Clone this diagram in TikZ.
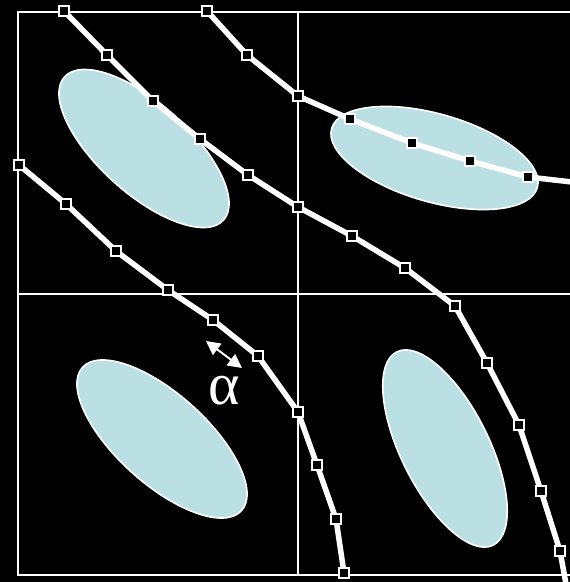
\documentclass[tikz,border=0pt]{standalone}
\usepackage{fontspec}
\newfontfamily\greekfont{Liberation Serif}
\usetikzlibrary{arrows.meta}
\definecolor{ellblue}{HTML}{BBE0E3}
\tikzset{
  gridline/.style={draw=white, line width=1.8pt},
  curveline/.style={draw=white, line width=5.5pt, line join=round},
  mk/.style={rectangle, draw=white, fill=black, line width=1.8pt, minimum size=9.5pt, inner sep=0pt},
  blob/.style={fill=ellblue, draw=white, line width=1.6pt},
}
\begin{document}
\begin{tikzpicture}[x=1pt,y=-1pt]
\useasboundingbox (0,0) rectangle (570,582);
\fill[black] (0,0) rectangle (570,582);
% grid
\draw[gridline] (18,12) rectangle (578,575);
\draw[gridline] (298,12) -- (298,575);
\draw[gridline] (18,294) -- (578,294);
% ellipses
\begin{scope}[shift={(144,148.5)}, rotate=-42]
  \filldraw[blob] (0,0) ellipse [x radius=107, y radius=45];
\end{scope}
\begin{scope}[shift={(434.5,158)}, rotate=-16]
  \filldraw[blob] (0,0) ellipse [x radius=107, y radius=44];
\end{scope}
\begin{scope}[shift={(162,439)}, rotate=-42]
  \filldraw[blob] (0,0) ellipse [x radius=107, y radius=45];
\end{scope}
\begin{scope}[shift={(445,448.5)}, rotate=-63.5]
  \filldraw[blob] (0,0) ellipse [x radius=108, y radius=44];
\end{scope}
% curve A coordinates
\coordinate (a1) at (64,11);
\coordinate (a2) at (107,55);
\coordinate (a3) at (153,101);
\coordinate (a4) at (200,139);
\coordinate (a5) at (248,175);
\coordinate (a6) at (298,207);
\coordinate (a7) at (352,236);
\coordinate (a8) at (405,268);
\coordinate (a9) at (455,306);
\coordinate (a10) at (487,363);
\coordinate (a11) at (519,425);
\coordinate (a12) at (541,491);
\coordinate (a13) at (560,551);
\coordinate (aend) at (566,584);
% curve B coordinates
\coordinate (b1) at (207,11);
\coordinate (b2) at (247,55);
\coordinate (b3) at (298,96);
\coordinate (b4) at (350,119);
\coordinate (b5) at (412,143);
\coordinate (b6) at (470,161);
\coordinate (b7) at (528,177);
\coordinate (bend) at (572,182);
% curve C coordinates
\coordinate (c1) at (19,165);
\coordinate (c2) at (66,204);
\coordinate (c3) at (116,251);
\coordinate (c4) at (168,290);
\coordinate (c5) at (213,320);
\coordinate (c6) at (258,356);
\coordinate (c7) at (298,412);
\coordinate (c8) at (317,465);
\coordinate (c9) at (336,519);
\coordinate (c10) at (344,573);
% lines
\draw[curveline] (a1) -- (a2) -- (a3) -- (a4) -- (a5) -- (a6) -- (a7) -- (a8) -- (a9) -- (a10) -- (a11) -- (a12) -- (a13) -- (aend);
\draw[curveline] (b1) -- (b2) -- (b3) -- (b4) -- (b5) -- (b6) -- (b7) -- (bend);
\draw[curveline] (c1) -- (c2) -- (c3) -- (c4) -- (c5) -- (c6) -- (c7) -- (c8) -- (c9) -- (c10);
% markers
\foreach \p in {a1,a2,a3,a4,a5,a6,a7,a8,a9,a10,a11,a12,a13,b1,b2,b3,b4,b5,b6,b7,c1,c2,c3,c4,c5,c6,c7,c8,c9,c10}
  \node[mk] (m\p) at (\p) {};
% angle arrow and label
\coordinate (ar1) at (206,341);
\coordinate (ar2) at (242,368);
\draw[white, line width=2pt, {Triangle[length=14pt,width=14pt]}-{Triangle[length=14pt,width=14pt]}] (ar1) -- (ar2);
\node[text=white, font=\greekfont\fontsize{60}{64}\selectfont, inner sep=0pt] (alpha) at (224,391) {α};
\end{tikzpicture}
\end{document}
